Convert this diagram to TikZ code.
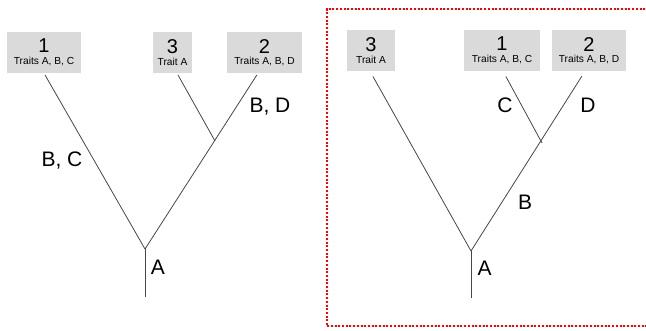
\documentclass[tikz,border=0pt]{standalone}
\usepackage{fontspec}
\setmainfont{Liberation Sans}
\definecolor{boxgray}{RGB}{218,218,218}
\definecolor{branchgray}{RGB}{70,70,70}
\newcommand{\taxon}[2]{{\fontsize{20}{10}\selectfont #1}\\[1.5pt]#2}

\begin{document}
\begin{tikzpicture}[x=1pt,y=-1pt,
                    taxon/.style={fill=boxgray,minimum height=41pt,inner sep=0pt,align=center,
                                  font=\fontsize{10.2}{10}\selectfont},
                    branch/.style={branchgray,line width=0.8pt},
                    change/.style={anchor=base,inner sep=0pt,font=\fontsize{21}{21}\selectfont}]
  \useasboundingbox (0,0) rectangle (646,330);

  % first tree
  \node[taxon,minimum width=74pt] (box1L) at (44,52.5) {\taxon{1}{Traits A, B, C}};
  \node[taxon,minimum width=39pt] (box3L) at (172.5,52.5) {\taxon{3}{Trait A}};
  \node[taxon,minimum width=75pt] (box2L) at (264.5,52.5) {\taxon{2}{Traits A, B, D}};
  \coordinate (rootL) at (145,249);
  \coordinate (stemL) at (145,297);
  \coordinate (joinL) at (215,141);
  \draw[branch] (stemL) -- (rootL);
  \draw[branch,shorten >=2pt] (rootL) -- (box1L.south);
  \draw[branch,shorten >=2pt] (rootL) -- ([xshift=-6.5pt]box2L.south);
  \draw[branch,shorten >=2pt] (joinL) -- ([xshift=4.5pt]box3L.south);
  \node[change] (bcL) at (62,166) {B, C};
  \node[change] (bdL) at (270,112) {B, D};
  \node[change] (aL) at (158,274) {A};

  % second tree, framed on three sides (right edge runs off the page)
  \draw[red,line width=2pt,dash pattern=on 2pt off 1.7pt] (660,9) -- (326.5,9) -- (326.5,326) -- (660,326);
  \node[taxon,minimum width=48pt] (box3R) at (371,50.5) {\taxon{3}{Trait A}};
  \node[taxon,minimum width=76pt] (box1R) at (502,50.5) {\taxon{1}{Traits A, B, C}};
  \node[taxon,minimum width=74pt] (box2R) at (589,50.5) {\taxon{2}{Traits A, B, D}};
  \coordinate (rootR) at (471,251);
  \coordinate (stemR) at (471,298);
  \coordinate (joinR) at (542,143);
  \draw[branch] (stemR) -- (rootR);
  \draw[branch,shorten >=6pt] (rootR) -- ([xshift=-1pt]box3R.south);
  \draw[branch,shorten >=6pt] (rootR) -- ([xshift=-4pt]box2R.south);
  \draw[branch,shorten >=6pt] (joinR) -- ([xshift=1pt]box1R.south);
  \node[change] (cR) at (505,112) {C};
  \node[change] (dR) at (588,112) {D};
  \node[change] (bR) at (525,209) {B};
  \node[change] (aR) at (484.5,275) {A};
\end{tikzpicture}
\end{document}
